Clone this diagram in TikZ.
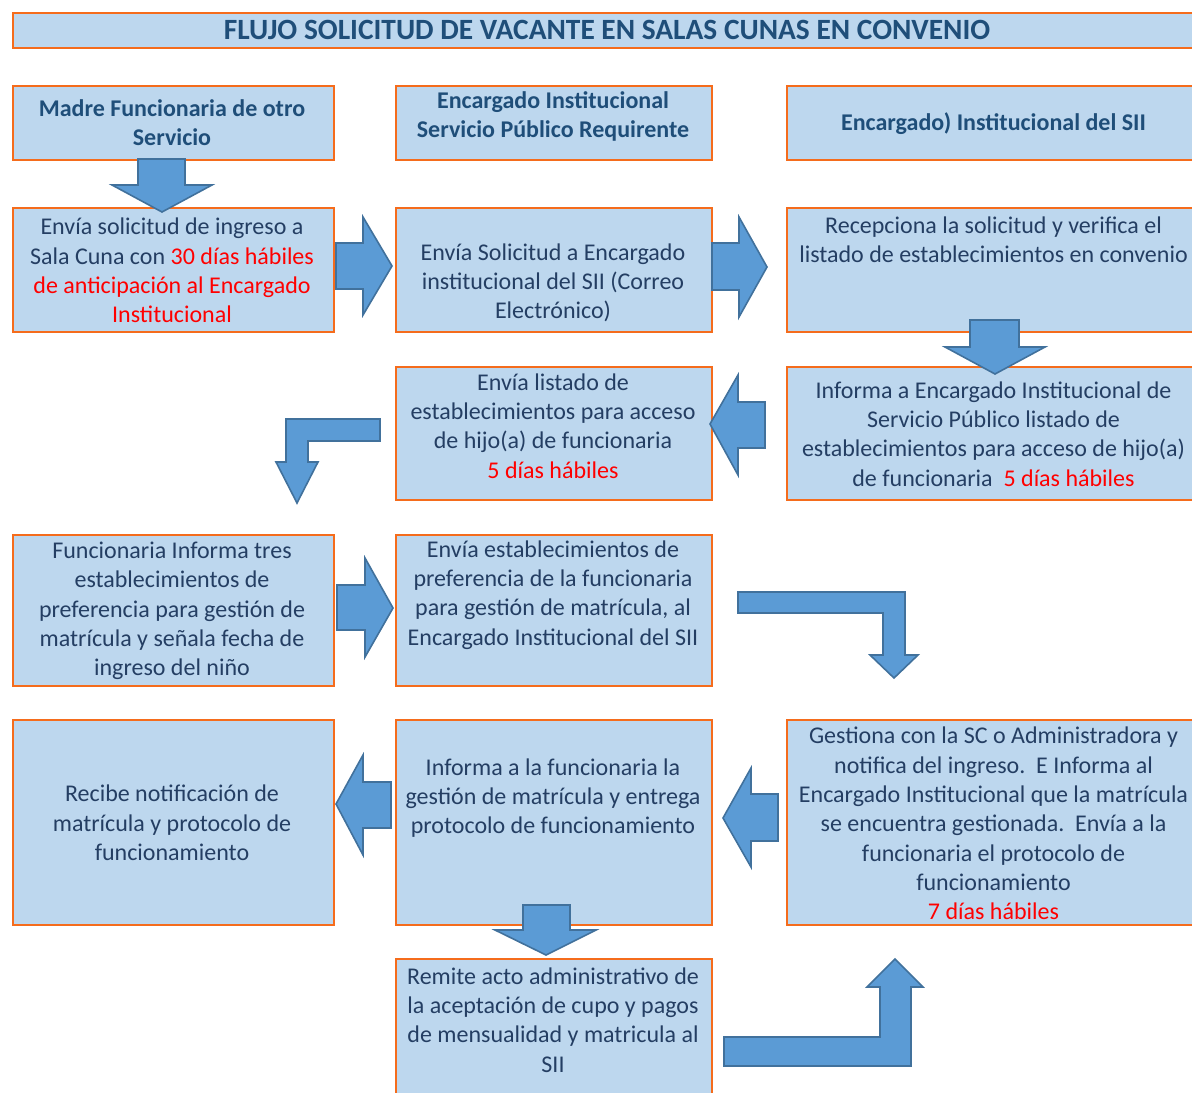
\documentclass[tikz,border=0pt]{standalone}
\usepackage{fontspec}
\setmainfont{Carlito}
\definecolor{boxfill}{RGB}{189,215,238}
\definecolor{boxline}{RGB}{245,108,28}
\definecolor{arrowfill}{RGB}{91,155,213}
\definecolor{arrowline}{RGB}{65,113,156}
\definecolor{headtext}{RGB}{31,78,121}
\definecolor{bodytext}{RGB}{36,62,99}

\tikzset{
  box/.style={draw=boxline, line width=1pt, fill=boxfill, rectangle,
    inner sep=0pt, anchor=north west},
  colA/.style={box, minimum width=160.5pt},
  colB/.style={box, minimum width=158pt},
  colC/.style={box, minimum width=207.5pt},
  txt/.style={align=center, inner sep=0pt, text=bodytext,
    font=\fontsize{12}{14.65}\selectfont},
  head/.style={txt, text=headtext, font=\fontsize{12}{14.65}\selectfont\bfseries},
  blockarrow/.style={fill=arrowfill, draw=arrowline, line width=0.8pt, line join=miter}
}
\newcommand{\dias}[1]{{\color{red}#1}}

\begin{document}
\begin{tikzpicture}[x=0.5pt, y=-0.5pt]
  \useasboundingbox (0,0) rectangle (1192,1092);
  % title
  \node[box, minimum width=595pt, minimum height=17.5pt] (title) at (12,12) {};
  \node[head, font=\fontsize{14.7}{18}\selectfont\bfseries] (titletxt) at (607,29.5)
    {FLUJO SOLICITUD DE VACANTE EN SALAS CUNAS EN CONVENIO};

  % column heads
  \node[colA, minimum height=37pt] (madre) at (12,85) {};
  \node[colB, minimum height=37pt] (servicio) at (395,85) {};
  \node[colC, minimum height=37pt] (sii) at (786,85) {};
  \node[head] (madretxt) at (172,123) {Madre Funcionaria de otro\\Servicio};
  \node[head] (serviciotxt) at (553,116.5) {Encargado Institucional\\Servicio Público Requirente};
  \node[head] (siitxt) at (993.5,124) {Encargado) Institucional del SII};

  % row 1
  \node[colA, minimum height=62pt] (envia) at (12,207) {};
  \node[colB, minimum height=62pt] (correo) at (395,207) {};
  \node[colC, minimum height=62pt] (recep) at (786,207) {};
  \node[txt] (enviatxt) at (172,270.5) {Envía solicitud de ingreso a\\Sala Cuna con \dias{30 días hábiles}\\
    \dias{de anticipación al Encargado}\\\dias{Institucional}};
  \node[txt] (correotxt) at (553,283) {Envía Solicitud a Encargado\\institucional del SII (Correo\\Electrónico)};
  \node[txt] (receptxt) at (993.5,239.5) {Recepciona la solicitud y verifica el\\listado de establecimientos en convenio};

  % row 2
  \node[colB, minimum height=66.5pt] (listado) at (395,366) {};
  \node[colC, minimum height=66.5pt] (informa) at (786,366) {};
  \node[txt] (listadotxt) at (553,426) {Envía listado de\\establecimientos para acceso\\de hijo(a) de funcionaria\\
    \dias{5 días hábiles}};
  \node[txt] (informatxt) at (993.5,434) {Informa a Encargado Institucional de\\Servicio Público listado de\\
    establecimientos para acceso de hijo(a)\\de funcionaria\ \ \dias{5 días hábiles}};

  % row 3
  \node[colA, minimum height=75.5pt] (tres) at (12,534) {};
  \node[colB, minimum height=75.5pt] (prefer) at (395,534) {};
  \node[txt] (trestxt) at (172,611) {Funcionaria Informa tres\\establecimientos de\\preferencia para gestión de\\
    matrícula y señala fecha de\\ingreso del niño};
  \node[txt] (prefertxt) at (553,595) {Envía establecimientos de\\preferencia de la funcionaria\\
    para gestión de matrícula, al\\Encargado Institucional del SII};

  % row 4
  \node[colA, minimum height=102.5pt] (recibe) at (12,719) {};
  \node[colB, minimum height=102.5pt] (entrega) at (395,719) {};
  \node[colC, minimum height=102.5pt] (gestiona) at (786,719) {};
  \node[txt] (recibetxt) at (172,823) {Recibe notificación de\\matrícula y protocolo de\\funcionamiento};
  \node[txt] (entregatxt) at (553,798) {Informa a la funcionaria la\\gestión de matrícula y entrega\\
    protocolo de funcionamiento};
  \node[txt] (gestionatxt) at (993.5,823.5) {Gestiona con la SC o Administradora y\\notifica del ingreso.\ \ E Informa al\\
    Encargado Institucional que la matrícula\\se encuentra gestionada.\ \ Envía a la\\
    funcionaria el protocolo de\\funcionamiento\\\dias{7 días hábiles}};

  % row 5
  \node[colB, minimum height=75pt] (remite) at (395,958) {};
  \node[txt] (remitetxt) at (553,1020) {Remite acto administrativo de\\la aceptación de cupo y pagos\\
    de mensualidad y matricula al\\SII};

  % arrows
  \draw[blockarrow] (138,159) -- (185,159) -- (185,185) -- (212,185) -- (162,212) -- (112,185) -- (138,185) -- cycle;
  \draw[blockarrow] (336,243) -- (363,243) -- (363,217) -- (392,266) -- (363,315) -- (363,289) -- (336,289) -- cycle;
  \draw[blockarrow] (712,243) -- (739,243) -- (739,217) -- (767,267) -- (739,317) -- (739,290) -- (712,290) -- cycle;
  \draw[blockarrow] (970,320) -- (1019,320) -- (1019,347) -- (1045,347) -- (995,374) -- (945,347) -- (970,347) -- cycle;
  \draw[blockarrow] (765,402) -- (738,402) -- (738,375) -- (710,424) -- (738,475) -- (738,448) -- (765,448) -- cycle;
  \draw[blockarrow] (380,419) -- (380,441) -- (308,441) -- (308,462) -- (318,462) -- (297,503)
    -- (276,462) -- (286,462) -- (286,419) -- cycle;
  \draw[blockarrow] (337,585) -- (365,585) -- (365,558) -- (393,608) -- (365,657) -- (365,630) -- (337,630) -- cycle;
  \draw[blockarrow] (738,592) -- (905,592) -- (905,655) -- (918,655) -- (894,678) -- (870,655)
    -- (883,655) -- (883,613) -- (738,613) -- cycle;
  \draw[blockarrow] (778,794) -- (751,794) -- (751,768) -- (723,818) -- (751,867) -- (751,841) -- (778,841) -- cycle;
  \draw[blockarrow] (391,782) -- (363,782) -- (363,755) -- (336,804) -- (363,855) -- (363,828) -- (391,828) -- cycle;
  \draw[blockarrow] (523,905) -- (570,905) -- (570,930) -- (596,930) -- (546,955) -- (495,930) -- (523,930) -- cycle;
  \draw[blockarrow] (724,1066) -- (911,1066) -- (911,987) -- (923,987) -- (895,959) -- (867,987)
    -- (880,987) -- (880,1037) -- (724,1037) -- cycle;
\end{tikzpicture}
\end{document}
